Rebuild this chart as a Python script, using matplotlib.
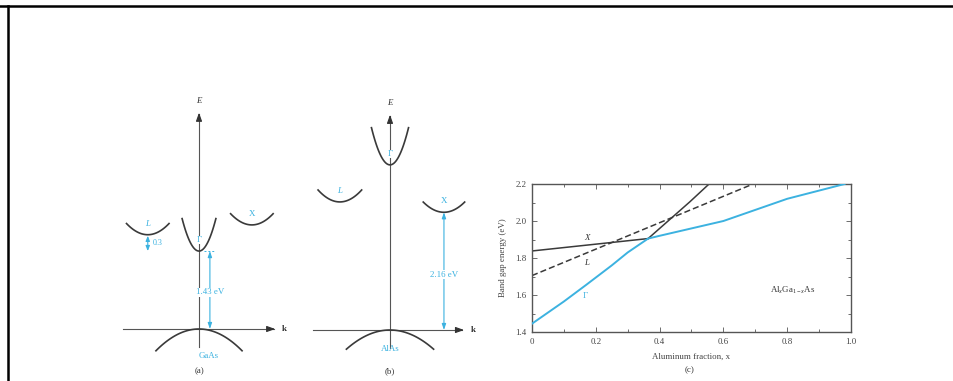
import numpy as np
import matplotlib
matplotlib.use("Agg")
import matplotlib.pyplot as plt
from matplotlib.lines import Line2D

plt.rcParams['font.family'] = ['Liberation Serif', 'DejaVu Serif']
plt.rcParams['mathtext.fontset'] = 'custom'
plt.rcParams['mathtext.rm'] = 'Liberation Serif'
plt.rcParams['mathtext.it'] = 'Liberation Serif:italic'

# ---- band-structure data (energies in eV, k in arbitrary units) ----
valley_names = ["Γ", "L", "X"]
gaas_valley_k = [0.0, -0.94, 0.97]
gaas_valley_E = [1.43, 1.73, 1.91]
alas_valley_k = [0.0, -0.92, 0.99]
alas_valley_E = [3.03, 2.35, 2.16]
gaas_gap_label = "1.43 eV"
alas_gap_label = "2.16 eV"
gaas_L_offset_label = "0.3"

# ---- AlxGa1-xAs band gaps vs aluminum fraction ----
x_gap_min = [0.0, 0.10, 0.17, 0.25, 0.30, 0.364, 0.40, 0.50, 0.60, 0.65, 0.80, 0.98]
E_gap_min = [1.445, 1.565, 1.655, 1.76, 1.83, 1.905, 1.92, 1.96, 2.0, 2.03, 2.12, 2.2]
x_gamma_upper = [0.364, 0.42, 0.495, 0.555]
E_gamma_upper = [1.905, 1.99, 2.104, 2.2]
x_X_lower = [0.0, 0.364]
E_X_lower = [1.838, 1.905]
x_L = [0.0, 0.693]
E_L = [1.705, 2.2]
x_ticks = [0, 0.2, 0.4, 0.6, 0.8, 1.0]
x_ticklabels = ["0", "0.2", "0.4", "0.6", "0.8", "1.0"]
y_ticks = [1.4, 1.6, 1.8, 2.0, 2.2]
y_ticklabels = ["1.4", "1.6", "1.8", "2.0", "2.2"]

BLUE = "#3cb2e0"
DARK = "#3a3a3a"
FS = 6.4
W, H = 954, 381
fig = plt.figure(figsize=(W / 100, H / 100), dpi=100)


def px_axes(x0, y0, x1, y1):
    """Axes from pixel box (top-left origin)."""
    return fig.add_axes([x0 / W, 1 - y1 / H, (x1 - x0) / W, (y1 - y0) / H])


# outer frame (top and left edges)
fig.add_artist(Line2D([0, 1], [1 - 5.5 / H] * 2, color="black", lw=1.8,
                      transform=fig.transFigure))
fig.add_artist(Line2D([8.2 / W] * 2, [0, 1 - 5.5 / H], color="black", lw=1.8,
                      transform=fig.transFigure))

SCALE = 54.5  # pixels per eV / per k unit


def band_panel(cx, origin_py, valley_k, valley_E, curv, halfw, vb_curv, vb_halfw,
               gap_k, gap_E, gap_label, material, material_xy, tag, e_top,
               k_left, k_right, e_bottom, extras=None):
    x0, x1 = cx - 100, cx + 100
    ax = px_axes(x0, 0, x1, H)
    ax.set_xlim((x0 - cx) / SCALE, (x1 - cx) / SCALE)
    ax.set_ylim((origin_py - H) / SCALE, origin_py / SCALE)
    ax.axis("off")
    # axes with arrows
    ax.plot([0, 0], [e_bottom, e_top - 0.08], color="#555555", lw=0.8)
    ax.annotate("", xy=(0, e_top), xytext=(0, e_top - 0.2),
                arrowprops=dict(arrowstyle="-|>,head_length=0.5,head_width=0.18",
                                color="#333333", lw=0.8))
    ax.plot([k_left, k_right - 0.08], [0, 0], color="#555555", lw=0.8)
    ax.annotate("", xy=(k_right, 0), xytext=(k_right - 0.2, 0),
                arrowprops=dict(arrowstyle="-|>,head_length=0.5,head_width=0.18",
                                color="#333333", lw=0.8))
    ax.text(0, e_top + 0.17, "E", style="italic", fontsize=FS, ha="center",
            va="center", color="#333333")
    ax.text(k_right + 0.12, 0, "k", fontweight="bold", fontsize=FS, ha="center",
            va="center", color="#333333")
    # valence band
    kv = np.linspace(-vb_halfw, vb_halfw, 80)
    ax.plot(kv, -vb_curv * kv ** 2, color=DARK, lw=1.2)
    # conduction valleys
    for name, k0, e0, a, hw in zip(valley_names, valley_k, valley_E, curv, halfw):
        kk = np.linspace(-hw, hw, 60)
        ax.plot(k0 + kk, e0 + a * kk ** 2, color=DARK, lw=1.2)
        style = "italic" if name == "L" else "normal"
        kw = {}
        if name == "Γ":
            kw["bbox"] = dict(facecolor="white", edgecolor="none", pad=0.2)
        ax.text(k0, e0 + 0.2, name, color=BLUE, fontsize=FS, style=style,
                ha="center", va="center", zorder=5, **kw)
    # gap arrow
    ax.annotate("", xy=(gap_k, gap_E), xytext=(gap_k, 0),
                arrowprops=dict(arrowstyle="<|-|>,head_length=0.35,head_width=0.12",
                                color=BLUE, lw=0.8, shrinkA=0, shrinkB=0))
    ax.text(gap_k, gap_E * 0.47, gap_label, color=BLUE, fontsize=FS, ha="center",
            va="center", bbox=dict(facecolor="white", edgecolor="none", pad=0.6))
    ax.text(material_xy[0], material_xy[1], material, color=BLUE, fontsize=FS,
            ha="center", va="center")
    ax.text(0, (origin_py - 371) / SCALE, tag, fontsize=FS, ha="center",
            va="center", color="#333333")
    if extras:
        extras(ax)
    return ax


def gaas_extras(ax):
    # dashed reference at the Γ minimum and the L–Γ offset arrow
    ax.plot([0.1, 0.3], [gaas_valley_E[0]] * 2, color=BLUE, lw=0.7, ls=(0, (2, 2)))
    kL = gaas_valley_k[1]
    ax.annotate("", xy=(kL, gaas_valley_E[1] - 0.02), xytext=(kL, gaas_valley_E[0]),
                arrowprops=dict(arrowstyle="<|-|>,head_length=0.3,head_width=0.12",
                                color=BLUE, lw=0.8, shrinkA=0, shrinkB=0))
    ax.text(kL + 0.1, (gaas_valley_E[0] + gaas_valley_E[1]) / 2, gaas_L_offset_label,
            color=BLUE, fontsize=FS - 0.6, ha="left", va="center")


band_panel(199, 329, gaas_valley_k, gaas_valley_E, [6.2, 1.35, 1.35],
           [0.31, 0.39, 0.39], 0.64, 0.79,
           0.2, gaas_valley_E[0], gaas_gap_label, "GaAs", (0.17, -0.5), "(a)",
           e_top=4.02, k_left=-1.40, k_right=1.45, e_bottom=-0.33,
           extras=gaas_extras)

band_panel(390, 330, alas_valley_k, alas_valley_E, [5.9, 1.37, 1.3],
           [0.34, 0.40, 0.38], 0.55, 0.80,
           alas_valley_k[2], alas_valley_E[2], alas_gap_label, "AlAs", (0.0, -0.34),
           "(b)", e_top=4.0, k_left=-1.41, k_right=1.41, e_bottom=-0.33)

# ---- panel (c) ----
axc = px_axes(532, 184, 851, 332)
axc.plot(x_gap_min, E_gap_min, color=BLUE, lw=1.4, zorder=3)
axc.plot(x_gamma_upper, E_gamma_upper, color=DARK, lw=1.1)
axc.plot(x_X_lower, E_X_lower, color=DARK, lw=1.1)
axc.plot(x_L, E_L, color=DARK, lw=1.1, ls=(0, (4, 2)))
axc.set_xlim(0, 1.0)
axc.set_ylim(1.4, 2.2)
axc.set_xticks(x_ticks, x_ticklabels)
axc.set_yticks(y_ticks, y_ticklabels)
axc.set_xticks(np.arange(0.1, 1.0, 0.2), minor=True)
axc.set_yticks(np.arange(1.5, 2.2, 0.2), minor=True)
axc.tick_params(which="both", direction="in", top=True, right=True,
                labelsize=FS, labelcolor="#444444", color="#555555", width=0.6)
axc.tick_params(which="major", length=3.5, pad=4)
axc.tick_params(which="minor", length=2.5)
for s in axc.spines.values():
    s.set_color("#555555")
    s.set_linewidth(1.0)
axc.set_xlabel("Aluminum fraction, x", fontsize=FS, color="#444444", labelpad=5)
axc.set_ylabel("Band gap energy (eV)", fontsize=FS, color="#444444", labelpad=6)
axc.text(0.172, 1.886, "X", style="italic", fontsize=FS, color="#333333",
         ha="center", va="bottom")
axc.text(0.172, 1.773, "L", style="italic", fontsize=FS, color="#333333",
         ha="center", va="center")
axc.text(0.167, 1.594, "Γ", fontsize=FS, color=BLUE, ha="center", va="center")
axc.text(0.816, 1.626, r"Al$_x$Ga$_{1-x}$As", fontsize=FS, color="#333333",
         ha="center", va="center")
fig.text(690 / W, 1 - 370 / H, "(c)", fontsize=FS, ha="center", va="center",
         color="#333333")

fig.savefig("out.png", dpi=100)
